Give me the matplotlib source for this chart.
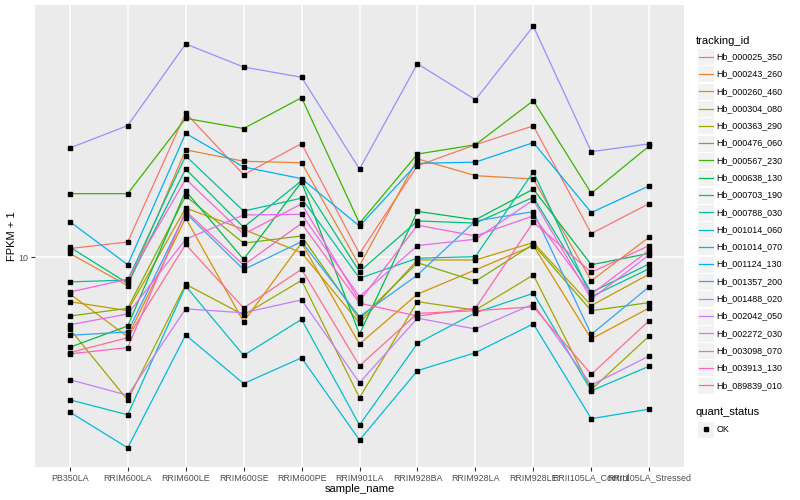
import numpy as np
import matplotlib
matplotlib.use("Agg")
import matplotlib.pyplot as plt
from matplotlib.patches import Rectangle
from matplotlib.lines import Line2D
from matplotlib.ticker import NullLocator

plt.rcParams['font.family'] = ['Liberation Sans', 'DejaVu Sans']

samples = ["PB350LA", "RRIM600LA", "RRIM600LE", "RRIM600SE", "RRIM600PE",
           "RRIM901LA", "RRIM928BA", "RRIM928LA", "RRIM928LE",
           "RRII105LA_Control", "RRII105LA_Stressed"]

tracking_ids = ["Hb_000025_350", "Hb_000243_260", "Hb_000260_460", "Hb_000304_080",
                "Hb_000363_290", "Hb_000476_060", "Hb_000567_230", "Hb_000638_130",
                "Hb_000703_190", "Hb_000788_030", "Hb_001014_060", "Hb_001014_070",
                "Hb_001124_130", "Hb_001357_200", "Hb_001488_020", "Hb_002042_050",
                "Hb_002272_030", "Hb_003098_070", "Hb_003913_130", "Hb_089839_010"]

colors = ["#F8766D", "#EA8331", "#D89000", "#C09B00", "#A3A500", "#7CAE00", "#39B600",
          "#00BB4E", "#00BF7D", "#00C1A3", "#00BFC4", "#00BAE0", "#00B0F6", "#35A2FF",
          "#9590FF", "#C77CFF", "#E76BF3", "#FA62DB", "#FF62BC", "#FF6C91"]

# log10(FPKM + 1), one list per tracking_id, in sample order
hb_000025_350 = [1.029, 1.051, 1.481, 1.275, 1.379, 1.012, 1.305, 1.375, 1.438, 1.079, 1.179]
hb_000243_260 = [1.013, 0.905, 1.358, 1.320, 1.315, 0.972, 1.328, 1.272, 1.261, 0.922, 1.067]
hb_000260_460 = [0.878, 0.735, 1.131, 0.785, 1.048, 0.711, 0.877, 0.958, 1.039, 0.728, 0.831]
hb_000304_080 = [0.852, 0.822, 1.164, 1.093, 1.015, 0.781, 0.991, 0.991, 1.049, 0.839, 0.944]
hb_000363_290 = [0.761, 0.524, 0.910, 0.808, 0.923, 0.532, 0.852, 0.824, 0.941, 0.559, 0.738]
hb_000476_060 = [0.804, 0.830, 1.204, 1.047, 1.071, 0.793, 0.982, 0.920, 1.043, 0.822, 0.849]
hb_000567_230 = [1.212, 1.212, 1.463, 1.429, 1.532, 1.113, 1.344, 1.375, 1.522, 1.213, 1.371]
hb_000638_130 = [0.700, 0.771, 1.221, 0.993, 1.251, 0.744, 1.153, 1.125, 1.227, 0.975, 1.013]
hb_000703_190 = [1.034, 0.913, 1.294, 1.100, 1.255, 0.952, 1.121, 1.114, 1.200, 0.883, 0.978]
hb_000788_030 = [0.918, 0.924, 1.338, 1.154, 1.197, 0.930, 0.997, 1.002, 1.285, 0.869, 0.962]
hb_001014_060 = [0.525, 0.475, 0.904, 0.673, 0.793, 0.441, 0.713, 0.815, 0.880, 0.555, 0.637]
hb_001014_070 = [0.484, 0.365, 0.741, 0.579, 0.665, 0.391, 0.622, 0.682, 0.778, 0.462, 0.494]
hb_001124_130 = [1.119, 0.975, 1.413, 1.301, 1.262, 1.104, 1.313, 1.317, 1.382, 1.149, 1.238]
hb_001357_200 = [0.740, 0.751, 1.148, 0.959, 1.052, 0.802, 0.941, 1.121, 1.152, 0.743, 0.902]
hb_001488_020 = [1.364, 1.439, 1.711, 1.634, 1.600, 1.294, 1.645, 1.525, 1.770, 1.352, 1.378]
hb_002042_050 = [0.592, 0.540, 0.828, 0.815, 0.858, 0.582, 0.797, 0.761, 0.844, 0.574, 0.671]
hb_002272_030 = [0.775, 0.811, 1.060, 1.141, 1.143, 0.869, 1.039, 1.060, 1.191, 0.861, 1.008]
hb_003098_070 = [0.884, 0.927, 1.261, 1.077, 1.178, 0.854, 1.107, 1.071, 1.138, 0.877, 1.024]
hb_003913_130 = [0.678, 0.699, 1.154, 0.974, 1.113, 0.847, 0.804, 0.830, 1.117, 0.950, 1.039]
hb_089839_010 = [0.682, 0.732, 1.043, 0.831, 0.960, 0.638, 0.813, 0.822, 0.835, 0.610, 0.789]

series = [hb_000025_350, hb_000243_260, hb_000260_460, hb_000304_080, hb_000363_290,
          hb_000476_060, hb_000567_230, hb_000638_130, hb_000703_190, hb_000788_030,
          hb_001014_060, hb_001014_070, hb_001124_130, hb_001357_200, hb_001488_020,
          hb_002042_050, hb_002272_030, hb_003098_070, hb_003913_130, hb_089839_010]

y_ticks = [10]
y_tick_labels = ["10"]
quant_levels = ["OK"]

W, H = 800, 500
fig = plt.figure(figsize=(W / 100, H / 100), dpi=100)
ax = fig.add_axes([35 / W, 1 - 467 / H, (684 - 35) / W, (467 - 5) / H])
ax.set_facecolor("#EBEBEB")

x = np.arange(len(samples))
for vals, col in zip(series, colors):
    ax.plot(x, np.power(10.0, vals), color=col, lw=0.9, zorder=2,
            solid_capstyle="butt")
for vals in series:
    ax.plot(x, np.power(10.0, vals), ls="none", marker="s", ms=2.7,
            color="black", zorder=3)

ax.set_yscale("log")
ax.set_ylim(2.0, 69.3)
ax.set_xlim(-0.6, len(samples) - 0.4)
ax.set_yticks(y_ticks)
ax.set_yticklabels(y_tick_labels)
ax.yaxis.set_minor_locator(NullLocator())
ax.set_xticks(x)
ax.set_xticklabels(samples)
ax.grid(True, which="major", color="white", lw=1.1)
ax.set_axisbelow(True)
for s in ax.spines.values():
    s.set_visible(False)
ax.tick_params(axis="both", length=2.8, width=0.8, color="#333333",
               labelsize=6.4, labelcolor="#4D4D4D", pad=2)
ax.set_xlabel("sample_name", fontsize=8, labelpad=1, color="black")
ax.set_ylabel("FPKM + 1", fontsize=8, labelpad=1, color="black")

# legends (drawn in figure pixel space)
def fx(px):
    return px / W

def fy(py):
    return 1 - py / H

key_left, key_w = 697, 17
fig.text(fx(696), fy(40.5), "tracking_id", fontsize=8, va="center", ha="left")
first_y, step = 56.7, 17.29
for i, (tid, col) in enumerate(zip(tracking_ids, colors)):
    cy = first_y + i * step
    fig.add_artist(Rectangle((fx(key_left), fy(cy + key_w / 2)), key_w / W, key_w / H,
                             facecolor="#F2F2F2", edgecolor="white", lw=0.8))
    fig.add_artist(Line2D([fx(key_left + 1.5), fx(key_left + key_w - 1.5)], [fy(cy), fy(cy)],
                          color=col, lw=0.9))
    fig.text(fx(716.5), fy(cy), tid, fontsize=6.4, va="center", ha="left")

fig.text(fx(696), fy(412), "quant_status", fontsize=8, va="center", ha="left")
for j, lvl in enumerate(quant_levels):
    cy = 429.3 + j * step
    fig.add_artist(Rectangle((fx(key_left), fy(cy + key_w / 2)), key_w / W, key_w / H,
                             facecolor="#F2F2F2", edgecolor="white", lw=0.8))
    fig.add_artist(Line2D([fx(key_left + key_w / 2)], [fy(cy)], marker="s", ms=2.7,
                          color="black", ls="none"))
    fig.text(fx(716.5), fy(cy), lvl, fontsize=6.4, va="center", ha="left")

fig.savefig("out.png", dpi=100, facecolor="white")
